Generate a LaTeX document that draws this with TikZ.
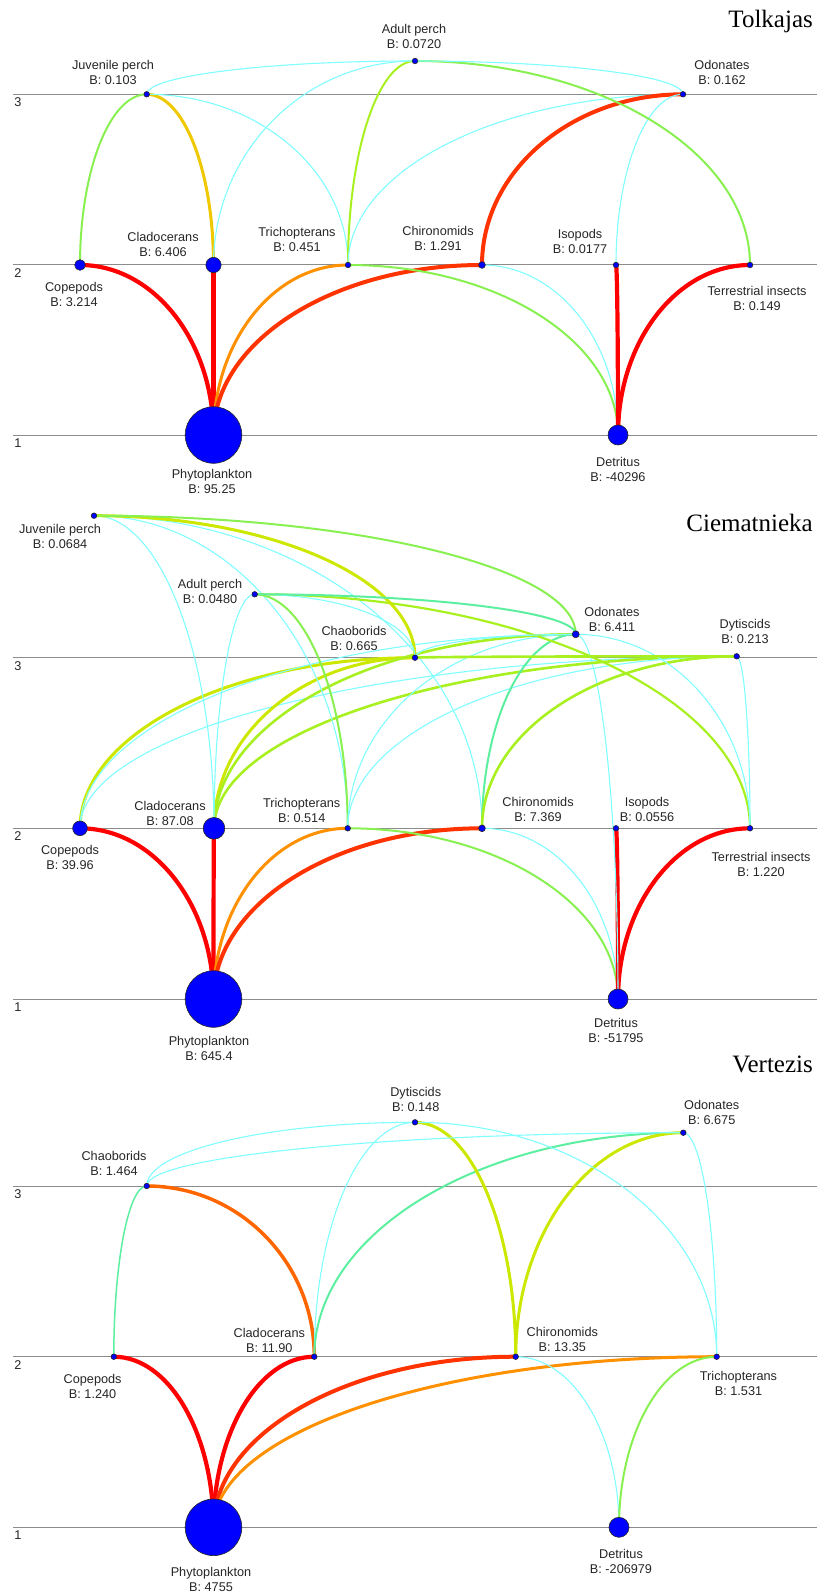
\documentclass[tikz,border=0pt]{standalone}
\usepackage{fontspec}
\setmainfont{Liberation Sans}
\newfontfamily\titlefont{Liberation Serif}
\usepackage{tikz}
\usetikzlibrary{calc}
\definecolor{fxred}{HTML}{FF0000}
\definecolor{fxredor}{HTML}{FF3300}
\definecolor{fxdarkor}{HTML}{FF6600}
\definecolor{fxorange}{HTML}{FF9000}
\definecolor{fxyelor}{HTML}{F0C800}
\definecolor{fxyellime}{HTML}{CCE800}
\definecolor{fxlime}{HTML}{A8F020}
\definecolor{fxgreen}{HTML}{88F050}
\definecolor{fxteal}{HTML}{5CEFA0}
\definecolor{fxcyan}{HTML}{80FFFF}
\definecolor{lvgray}{HTML}{8C8C8C}
\pgfdeclarelayer{grid}
\pgfdeclarelayer{links}
\pgfsetlayers{grid,links,main}

\begin{document}
\begin{tikzpicture}[x=1pt, y=-1pt,
  link/.style={to path={.. controls ($(\tikztostart)!0.552!(\tikztostart|-\tikztotarget)$)
      and ($(\tikztotarget)!0.552!(\tikztostart|-\tikztotarget)$) .. (\tikztotarget)}},
  fxRed/.style={link, draw=fxred, line width=4.2pt},
  fxRedOr/.style={link, draw=fxredor, line width=4pt},
  fxDarkOr/.style={link, draw=fxdarkor, line width=3.5pt},
  fxOrange/.style={link, draw=fxorange, line width=3pt},
  fxYelOr/.style={link, draw=fxyelor, line width=3pt},
  fxYelLime/.style={link, draw=fxyellime, line width=3pt},
  fxLime/.style={link, draw=fxlime, line width=2.6pt},
  fxGreen/.style={link, draw=fxgreen, line width=2pt},
  fxTeal/.style={link, draw=fxteal, line width=2pt},
  fxCyan/.style={link, draw=fxcyan, line width=1.1pt},
  taxon/.style={circle, draw=black!85, fill=blue, line width=0.6pt, inner sep=0pt, minimum size=#1},
  lbl/.style={font=\fontsize{12.7}{15}\selectfont, text=black!85, align=center, inner sep=0pt},
  titletxt/.style={font=\titlefont\fontsize{25}{30}\selectfont, anchor=base east, inner sep=0pt},
]
\useasboundingbox (0,0) rectangle (826,1594);

% trophic levels 1-3 of the three lakes
\foreach \p/\ya/\yb/\yc in {1/435/265/94.3, 2/999/828.3/657.7, 3/1527.3/1356.7/1186} {
  \begin{pgfonlayer}{grid}
    \draw[lvgray, line width=1pt] (13,\ya) -- (817,\ya);
    \draw[lvgray, line width=1pt] (13,\yb) -- (817,\yb);
    \draw[lvgray, line width=1pt] (13,\yc) -- (817,\yc);
  \end{pgfonlayer}
  \node[lbl] (lv\p a) at (18,\ya+8) {1};
  \node[lbl] (lv\p b) at (18,\yb+8) {2};
  \node[lbl] (lv\p c) at (18,\yc+8) {3};
}

\node[titletxt] (t1) at (813,28) {Tolkajas};
\node[titletxt] (t2) at (813,531.5) {Ciematnieka};
\node[titletxt] (t3) at (813,1072.5) {Vertezis};

% ---- Tolkajas
\node[taxon=5.6pt] (p1juv) at (146.7,94.3) {};
\node[taxon=5.6pt] (p1adu) at (415,61) {};
\node[taxon=5.6pt] (p1odo) at (683,94.3) {};
\node[taxon=10.7pt] (p1cop) at (80,265) {};
\node[taxon=15.3pt] (p1cla) at (213.5,265) {};
\node[taxon=5.6pt] (p1tri) at (348,265) {};
\node[taxon=6.7pt] (p1chi) at (482,265) {};
\node[taxon=5.6pt] (p1iso) at (616,265) {};
\node[taxon=5.6pt] (p1ter) at (750,265) {};
\node[taxon=56.6pt] (p1phy) at (213.5,435) {};
\node[taxon=20pt] (p1det) at (618,435) {};

\node[lbl] (p1juvL) at (113,72.5) {Juvenile perch\\B: 0.103};
\node[lbl] (p1aduL) at (414,36) {Adult perch\\B: 0.0720};
\node[lbl] (p1odoL) at (722,72) {Odonates\\B: 0.162};
\node[lbl] (p1copL) at (74,294) {Copepods\\B: 3.214};
\node[lbl] (p1claL) at (163,244.5) {Cladocerans\\B: 6.406};
\node[lbl] (p1triL) at (297,239.5) {Trichopterans\\B: 0.451};
\node[lbl] (p1chiL) at (438,238.5) {Chironomids\\B: 1.291};
\node[lbl] (p1isoL) at (580,241.5) {Isopods\\B: 0.0177};
\node[lbl] (p1terL) at (757,298) {Terrestrial insects\\B: 0.149};
\node[lbl] (p1phyL) at (212,481) {Phytoplankton\\B: 95.25};
\node[lbl] (p1detL) at (618,469.5) {Detritus\\B: -40296};

% ---- Ciematnieka
\node[taxon=5.6pt] (p2juv) at (94,515.7) {};
\node[taxon=5.6pt] (p2adu) at (254.7,594.3) {};
\node[taxon=5.6pt] (p2chb) at (415,657.7) {};
\node[taxon=7pt] (p2odo) at (575.7,634.3) {};
\node[taxon=5.6pt] (p2dyt) at (736.7,656.3) {};
\node[taxon=14.7pt] (p2cop) at (80,828.3) {};
\node[taxon=21.7pt] (p2cla) at (214,828.3) {};
\node[taxon=5.6pt] (p2tri) at (347.7,828.3) {};
\node[taxon=6.7pt] (p2chi) at (482,828.3) {};
\node[taxon=5.6pt] (p2iso) at (616,828.3) {};
\node[taxon=5.6pt] (p2ter) at (750,828.3) {};
\node[taxon=56.6pt] (p2phy) at (213.5,999) {};
\node[taxon=20pt] (p2det) at (618,999) {};

\node[lbl] (p2juvL) at (60,536) {Juvenile perch\\B: 0.0684};
\node[lbl] (p2aduL) at (210,591) {Adult perch\\B: 0.0480};
\node[lbl] (p2chbL) at (354,638.5) {Chaoborids\\B: 0.665};
\node[lbl] (p2odoL) at (612,619) {Odonates\\B: 6.411};
\node[lbl] (p2dytL) at (745,631) {Dytiscids\\B: 0.213};
\node[lbl] (p2copL) at (70,857.5) {Copepods\\B: 39.96};
\node[lbl] (p2claL) at (170,813) {Cladocerans\\B: 87.08};
\node[lbl] (p2triL) at (301.7,810) {Trichopterans\\B: 0.514};
\node[lbl] (p2chiL) at (538,809) {Chironomids\\B: 7.369};
\node[lbl] (p2isoL) at (647,809) {Isopods\\B: 0.0556};
\node[lbl] (p2terL) at (761,864) {Terrestrial insects\\B: 1.220};
\node[lbl] (p2phyL) at (209,1048) {Phytoplankton\\B: 645.4};
\node[lbl] (p2detL) at (616,1030) {Detritus\\B: -51795};

% ---- Vertezis
\node[taxon=5.6pt] (p3chb) at (146.7,1186) {};
\node[taxon=5.6pt] (p3dyt) at (415,1122.3) {};
\node[taxon=5.6pt] (p3odo) at (683.3,1132.7) {};
\node[taxon=5.6pt] (p3cop) at (113.8,1356.7) {};
\node[taxon=5.6pt] (p3cla) at (314.3,1356.7) {};
\node[taxon=5.6pt] (p3chi) at (515.7,1356.7) {};
\node[taxon=5.6pt] (p3tri) at (716.7,1356.7) {};
\node[taxon=56.6pt] (p3phy) at (213.5,1527.3) {};
\node[taxon=20pt] (p3det) at (619,1527.3) {};

\node[lbl] (p3chbL) at (114,1163.5) {Chaoborids\\B: 1.464};
\node[lbl] (p3dytL) at (415.7,1099) {Dytiscids\\B: 0.148};
\node[lbl] (p3odoL) at (711.7,1112) {Odonates\\B: 6.675};
\node[lbl] (p3copL) at (92.6,1386) {Copepods\\B: 1.240};
\node[lbl] (p3claL) at (269.3,1340) {Cladocerans\\B: 11.90};
\node[lbl] (p3chiL) at (562.3,1339) {Chironomids\\B: 13.35};
\node[lbl] (p3triL) at (738.5,1383) {Trichopterans\\B: 1.531};
\node[lbl] (p3phyL) at (211,1579) {Phytoplankton\\B: 4755};
\node[lbl] (p3detL) at (621,1561.7) {Detritus\\B: -206979};

% flows: prey leaves upward, predator is reached sideways
\begin{pgfonlayer}{links}
\draw[fxRed] (p1phy.center) to (p1cop.center);
\draw[fxRed] (p1phy.center) to (p1cla.center);
\draw[fxOrange] (p1phy.center) to (p1tri.center);
\draw[fxRedOr] (p1phy.center) to (p1chi.center);
\draw[fxGreen] (p1det.center) to (p1tri.center);
\draw[fxCyan] (p1det.center) to (p1chi.center);
\draw[fxRed] (p1det.center) to (p1iso.center);
\draw[fxRed] (p1det.center) to (p1ter.center);
\draw[fxGreen] (p1cop.center) to (p1juv.center);
\draw[fxYelOr] (p1cla.center) to (p1juv.center);
\draw[fxCyan] (p1cla.center) to (p1adu.center);
\draw[fxCyan] (p1tri.center) to (p1juv.center);
\draw[fxLime, line width=2pt] (p1tri.center) to (p1adu.center);
\draw[fxCyan] (p1tri.center) to (p1odo.center);
\draw[fxRedOr] (p1chi.center) to (p1odo.center);
\draw[fxCyan] (p1iso.center) to (p1odo.center);
\draw[fxGreen] (p1ter.center) to (p1adu.center);
\draw[fxCyan] (p1juv.center) to (p1adu.center);
\draw[fxCyan] (p1odo.center) to (p1adu.center);

\draw[fxRed] (p2phy.center) to (p2cop.center);
\draw[fxRed] (p2phy.center) to (p2cla.center);
\draw[fxOrange] (p2phy.center) to (p2tri.center);
\draw[fxRedOr] (p2phy.center) to (p2chi.center);
\draw[fxGreen] (p2det.center) to (p2tri.center);
\draw[fxCyan] (p2det.center) to (p2chi.center);
\draw[fxRed] (p2det.center) to (p2iso.center);
\draw[fxRed] (p2det.center) to (p2ter.center);
\draw[fxCyan] (p2det.center) to (p2odo.center);
\draw[fxYelLime] (p2cop.center) to (p2chb.center);
\draw[fxCyan] (p2cop.center) to (p2odo.center);
\draw[fxCyan] (p2cop.center) to (p2dyt.center);
\draw[fxYelLime] (p2cla.center) to (p2chb.center);
\draw[fxLime] (p2cla.center) to (p2odo.center);
\draw[fxLime] (p2cla.center) to (p2dyt.center);
\draw[fxCyan] (p2cla.center) to (p2juv.center);
\draw[fxCyan] (p2cla.center) to (p2adu.center);
\draw[fxCyan] (p2tri.center) to (p2juv.center);
\draw[fxGreen] (p2tri.center) to (p2adu.center);
\draw[fxCyan] (p2tri.center) to (p2odo.center);
\draw[fxCyan] (p2tri.center) to (p2dyt.center);
\draw[fxCyan] (p2chi.center) to (p2juv.center);
\draw[fxTeal] (p2chi.center) to (p2odo.center);
\draw[fxLime] (p2chi.center) to (p2dyt.center);
\draw[fxLime, line width=2.2pt] (p2ter.center) to (p2adu.center);
\draw[fxCyan] (p2ter.center) to (p2odo.center);
\draw[fxCyan] (p2ter.center) to (p2dyt.center);
\draw[fxYelLime] (p2chb.center) to (p2juv.center);
\draw[fxCyan] (p2chb.center) to (p2adu.center);
\draw[fxCyan] (p2chb.center) to (p2odo.center);
\draw[fxLime] (p2chb.center) to (p2dyt.center);
\draw[fxGreen] (p2odo.center) to (p2juv.center);
\draw[fxTeal] (p2odo.center) to (p2adu.center);

\draw[fxRed] (p3phy.center) to (p3cop.center);
\draw[fxRed] (p3phy.center) to (p3cla.center);
\draw[fxRedOr] (p3phy.center) to (p3chi.center);
\draw[fxOrange] (p3phy.center) to (p3tri.center);
\draw[fxCyan] (p3det.center) to (p3chi.center);
\draw[fxGreen] (p3det.center) to (p3tri.center);
\draw[fxTeal, line width=1.5pt] (p3cop.center) to (p3chb.center);
\draw[fxDarkOr] (p3cla.center) to (p3chb.center);
\draw[fxCyan] (p3cla.center) to (p3dyt.center);
\draw[fxTeal] (p3cla.center) to (p3odo.center);
\draw[fxYelLime] (p3chi.center) to (p3dyt.center);
\draw[fxYelLime] (p3chi.center) to (p3odo.center);
\draw[fxCyan] (p3tri.center) to (p3dyt.center);
\draw[fxCyan] (p3tri.center) to (p3odo.center);
\draw[fxCyan] (p3chb.center) to (p3dyt.center);
\draw[fxCyan] (p3chb.center) to (p3odo.center);
\end{pgfonlayer}
\end{tikzpicture}
\end{document}
